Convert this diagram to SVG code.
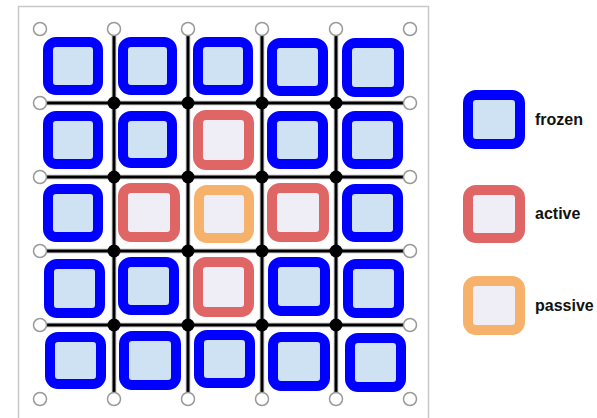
<svg xmlns="http://www.w3.org/2000/svg" width="597" height="418" viewBox="0 0 597 418">
<style>
.frame{fill:#ffffff;stroke:#c8c8c8;stroke-width:1.5}
.wire{stroke:#000;stroke-width:3;fill:none}
.halo{stroke:#d0d0d0;stroke-width:5;fill:none}
.term{fill:#fff;stroke:#999;stroke-width:1.5}
.junc{fill:#000}
.cell{stroke-width:10}
.frozen{fill:#cfe2f3;stroke:#0000ff}
.active{fill:#efedf6;stroke:#e06666}
.passive{fill:#efedf6;stroke:#f6b26b}
.lbl{font-family:"Liberation Sans",Arial,sans-serif;font-weight:bold;font-size:16px;fill:#111}
</style>
<rect class="frame" x="18.5" y="6.5" width="410" height="420"/>
<g id="connectors">
<path class="halo" d="M114 29V399M188 29V399M262 29V399M336 29V399M40 103H410M40 177H410M40 251H410M40 325H410"/>
<path class="wire" d="M114 29V399M188 29V399M262 29V399M336 29V399M40 103H410M40 177H410M40 251H410M40 325H410"/>
</g>
<g id="cells">
<g id="c11"><rect class="cell frozen" x="48" y="42" width="50" height="48" rx="8"/></g>
<g id="c12"><rect class="cell frozen" x="123" y="42" width="49" height="48" rx="8"/></g>
<g id="c13"><rect class="cell frozen" x="198" y="42" width="50" height="48" rx="8"/></g>
<g id="c14"><rect class="cell frozen" x="272" y="43" width="51" height="48" rx="8"/></g>
<g id="c15"><rect class="cell frozen" x="347" y="43" width="52" height="49" rx="8"/></g>
<g id="c21"><rect class="cell frozen" x="48" y="116" width="50" height="48" rx="8"/></g>
<g id="c22"><rect class="cell frozen" x="123" y="116" width="49" height="47" rx="8"/></g>
<g id="c23"><rect class="cell active" x="198" y="115" width="51" height="50" rx="8"/></g>
<g id="c24"><rect class="cell frozen" x="272" y="116" width="51" height="48" rx="8"/></g>
<g id="c25"><rect class="cell frozen" x="347" y="116" width="51" height="48" rx="8"/></g>
<g id="c31"><rect class="cell frozen" x="48" y="189" width="50" height="48" rx="8"/></g>
<g id="c32"><rect class="cell active" x="123" y="188" width="52" height="49" rx="8"/></g>
<g id="c33"><rect class="cell passive" x="199" y="190" width="50" height="48" rx="8"/></g>
<g id="c34"><rect class="cell active" x="272" y="188" width="52" height="49" rx="8"/></g>
<g id="c35"><rect class="cell frozen" x="347" y="189" width="51" height="48" rx="8"/></g>
<g id="c41"><rect class="cell frozen" x="49" y="264" width="51" height="49" rx="8"/></g>
<g id="c42"><rect class="cell frozen" x="123" y="262" width="51" height="48" rx="8"/></g>
<g id="c43"><rect class="cell active" x="198" y="262" width="51" height="50" rx="8"/></g>
<g id="c44"><rect class="cell frozen" x="273" y="262" width="52" height="49" rx="8"/></g>
<g id="c45"><rect class="cell frozen" x="348" y="264" width="51" height="49" rx="8"/></g>
<g id="c51"><rect class="cell frozen" x="50" y="337" width="51" height="47" rx="8"/></g>
<g id="c52"><rect class="cell frozen" x="124" y="336" width="52" height="49" rx="8"/></g>
<g id="c53"><rect class="cell frozen" x="199" y="335" width="51" height="48" rx="8"/></g>
<g id="c54"><rect class="cell frozen" x="273" y="337" width="52" height="49" rx="8"/></g>
<g id="c55"><rect class="cell frozen" x="350" y="338" width="51" height="49" rx="8"/></g>
</g>
<g id="junctions">
<circle class="junc" cx="114" cy="103" r="6.5"/><circle class="junc" cx="188" cy="103" r="6.5"/><circle class="junc" cx="262" cy="103" r="6.5"/><circle class="junc" cx="336" cy="103" r="6.5"/>
<circle class="junc" cx="114" cy="177" r="6.5"/><circle class="junc" cx="188" cy="177" r="6.5"/><circle class="junc" cx="262" cy="177" r="6.5"/><circle class="junc" cx="336" cy="177" r="6.5"/>
<circle class="junc" cx="114" cy="251" r="6.5"/><circle class="junc" cx="188" cy="251" r="6.5"/><circle class="junc" cx="262" cy="251" r="6.5"/><circle class="junc" cx="336" cy="251" r="6.5"/>
<circle class="junc" cx="114" cy="325" r="6.5"/><circle class="junc" cx="188" cy="325" r="6.5"/><circle class="junc" cx="262" cy="325" r="6.5"/><circle class="junc" cx="336" cy="325" r="6.5"/>
</g>
<g id="terminals">
<circle class="term" cx="40" cy="29" r="6.5"/><circle class="term" cx="114" cy="29" r="6.5"/><circle class="term" cx="188" cy="29" r="6.5"/><circle class="term" cx="262" cy="29" r="6.5"/><circle class="term" cx="336" cy="29" r="6.5"/><circle class="term" cx="410" cy="29" r="6.5"/>
<circle class="term" cx="40" cy="399" r="6.5"/><circle class="term" cx="114" cy="399" r="6.5"/><circle class="term" cx="188" cy="399" r="6.5"/><circle class="term" cx="262" cy="399" r="6.5"/><circle class="term" cx="336" cy="399" r="6.5"/><circle class="term" cx="410" cy="399" r="6.5"/>
<circle class="term" cx="40" cy="103" r="6.5"/><circle class="term" cx="40" cy="177" r="6.5"/><circle class="term" cx="40" cy="251" r="6.5"/><circle class="term" cx="40" cy="325" r="6.5"/>
<circle class="term" cx="410" cy="103" r="6.5"/><circle class="term" cx="410" cy="177" r="6.5"/><circle class="term" cx="410" cy="251" r="6.5"/><circle class="term" cx="410" cy="325" r="6.5"/>
</g>
<g id="legend-frozen"><rect class="cell frozen" x="468" y="95" width="52" height="49" rx="8"/><text class="lbl" x="535" y="125">frozen</text></g>
<g id="legend-active"><rect class="cell active" x="468" y="190" width="52" height="48" rx="8"/><text class="lbl" x="535" y="219">active</text></g>
<g id="legend-passive"><rect class="cell passive" x="468" y="281" width="52" height="49" rx="8"/><text class="lbl" x="535" y="311">passive</text></g>
</svg>
